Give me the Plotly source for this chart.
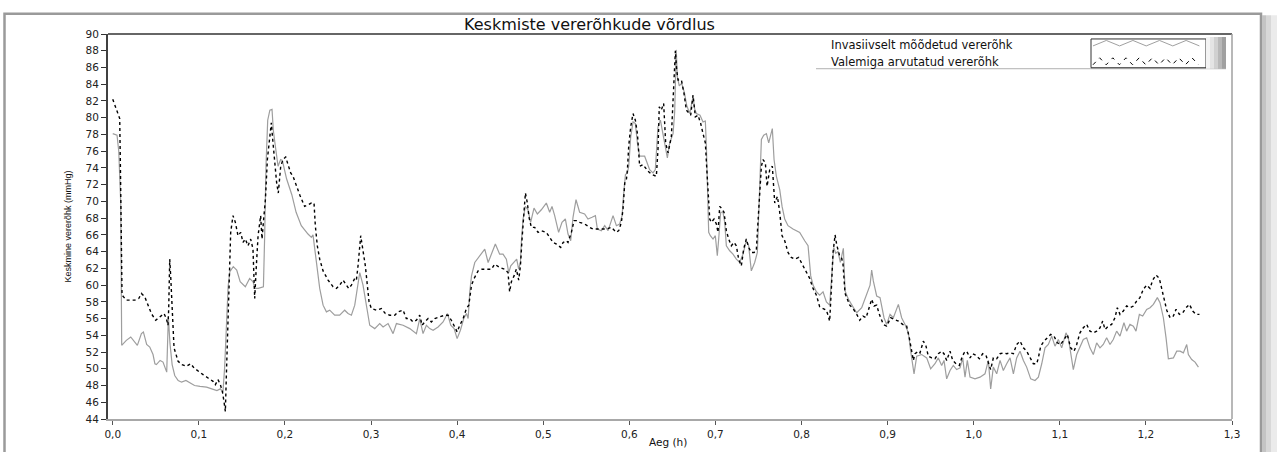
import plotly.graph_objects as go

# ---------------- data ----------------
t_invasive = [0.000, 0.005, 0.007, 0.0093, 0.0104, 0.0158, 0.0209, 0.0255, 0.0286, 0.0333, 0.0356, 0.0394, 0.043, 0.0468, 0.049, 0.0507, 0.055, 0.0584, 0.0627, 0.0646, 0.0665, 0.069, 0.072, 0.076, 0.080, 0.085, 0.090, 0.095, 0.1014, 0.109, 0.115, 0.121, 0.125, 0.128, 0.130, 0.132, 0.134, 0.136, 0.140, 0.144, 0.148, 0.154, 0.159, 0.163, 0.165, 0.169, 0.175, 0.1765, 0.178, 0.180, 0.1825, 0.185, 0.1865, 0.189, 0.191, 0.192, 0.195, 0.197, 0.2019, 0.208, 0.213, 0.219, 0.2268, 0.2307, 0.2326, 0.2365, 0.2404, 0.2443, 0.2482, 0.252, 0.2578, 0.2636, 0.2694, 0.2733, 0.2772, 0.2811, 0.2842, 0.2869, 0.2907, 0.2946, 0.2985, 0.3043, 0.3101, 0.314, 0.3198, 0.3256, 0.3295, 0.3372, 0.345, 0.3527, 0.3566, 0.3604, 0.3643, 0.3682, 0.3721, 0.3779, 0.3837, 0.3888, 0.3926, 0.3965, 0.400, 0.4038, 0.4077, 0.4108, 0.4128, 0.4147, 0.4167, 0.4205, 0.4263, 0.4321, 0.436, 0.4398, 0.4444, 0.4494, 0.4533, 0.4572, 0.460, 0.4623, 0.4661, 0.4692, 0.4715, 0.4735, 0.4746, 0.4766, 0.4793, 0.4823, 0.4854, 0.4893, 0.4932, 0.4978, 0.5036, 0.5075, 0.5102, 0.5133, 0.5179, 0.5218, 0.5257, 0.5288, 0.5319, 0.5346, 0.5381, 0.5423, 0.5481, 0.552, 0.5567, 0.5606, 0.5629, 0.5675, 0.5714, 0.5753, 0.5811, 0.585, 0.5888, 0.5916, 0.5935, 0.5955, 0.5978, 0.5993, 0.6016, 0.6043, 0.607, 0.6094, 0.612, 0.6178, 0.6236, 0.6275, 0.6302, 0.6333, 0.6361, 0.6392, 0.6411, 0.6442, 0.6469, 0.6508, 0.6527, 0.6539, 0.6545, 0.6558, 0.658, 0.6608, 0.664, 0.6666, 0.6701, 0.674, 0.676, 0.6779, 0.6821, 0.6856, 0.6883, 0.6895, 0.6907, 0.6922, 0.6941, 0.6972, 0.6999, 0.7022, 0.7038, 0.7061, 0.7088, 0.7108, 0.7127, 0.7166, 0.7204, 0.7243, 0.7282, 0.7321, 0.7359, 0.7386, 0.7417, 0.7456, 0.7487, 0.7503, 0.7514, 0.7534, 0.7561, 0.7592, 0.7619, 0.7642, 0.7661, 0.7681, 0.7708, 0.7747, 0.7774, 0.7805, 0.7843, 0.7901, 0.794, 0.7979, 0.8037, 0.8076, 0.8107, 0.8134, 0.8173, 0.8211, 0.825, 0.8289, 0.8327, 0.8354, 0.8374, 0.8397, 0.8424, 0.8451, 0.847, 0.8486, 0.8506, 0.8545, 0.8603, 0.8641, 0.8699, 0.8757, 0.8796, 0.8815, 0.8834, 0.8873, 0.8912, 0.8958, 0.8989, 0.9028, 0.9067, 0.9125, 0.9163, 0.9202, 0.9241, 0.9268, 0.9307, 0.9338, 0.9396, 0.9454, 0.950, 0.955, 0.9589, 0.9628, 0.9655, 0.9686, 0.9725, 0.9763, 0.9802, 0.9841, 0.9872, 0.9899, 0.9926, 0.9957, 1.0015, 1.0073, 1.0131, 1.017, 1.0197, 1.0228, 1.0267, 1.0306, 1.0344, 1.0383, 1.0422, 1.0461, 1.0499, 1.0538, 1.0577, 1.0615, 1.0662, 1.0712, 1.0751, 1.079, 1.0828, 1.0867, 1.0906, 1.0944, 1.0983, 1.1022, 1.1072, 1.1099, 1.1126, 1.1157, 1.1196, 1.1234, 1.1273, 1.1312, 1.135, 1.1389, 1.1428, 1.1467, 1.1505, 1.1544, 1.1583, 1.1621, 1.166, 1.1699, 1.1745, 1.1776, 1.1815, 1.1854, 1.1885, 1.1924, 1.1963, 1.2009, 1.2048, 1.2087, 1.2133, 1.2164, 1.2203, 1.2234, 1.2261, 1.2319, 1.2358, 1.2397, 1.2435, 1.2474, 1.2493, 1.2532, 1.2571, 1.261]
v_invasive = [78.1, 77.9, 76.0, 69.8, 52.8, 53.4, 53.8, 53.2, 52.8, 54.2, 54.4, 52.9, 52.6, 51.7, 50.6, 50.5, 51.0, 50.8, 49.6, 56.2, 53.0, 50.5, 49.2, 48.6, 48.4, 48.6, 48.3, 48.0, 47.9, 47.8, 47.6, 47.4, 47.6, 47.2, 50.2, 55.0, 59.8, 61.6, 62.2, 61.8, 60.4, 59.8, 60.8, 60.4, 59.6, 59.6, 59.8, 66.0, 74.2, 79.7, 80.9, 81.0, 78.5, 76.5, 75.0, 74.2, 75.0, 74.9, 72.7, 70.8, 68.7, 67.1, 66.1, 65.7, 66.0, 62.7, 59.6, 57.6, 56.8, 57.0, 56.4, 56.4, 57.0, 56.6, 56.4, 57.6, 59.6, 61.5, 60.0, 57.6, 55.2, 54.8, 55.4, 55.0, 55.4, 54.2, 55.4, 55.2, 54.8, 54.2, 56.0, 54.2, 55.2, 54.8, 54.6, 55.0, 55.6, 56.6, 55.2, 54.8, 53.6, 54.6, 56.0, 56.6, 56.0, 59.2, 61.1, 62.7, 63.5, 64.3, 62.7, 63.7, 64.9, 63.7, 63.7, 63.1, 61.5, 62.3, 62.7, 63.1, 61.9, 62.7, 65.1, 67.9, 69.4, 69.0, 67.5, 69.2, 68.5, 69.0, 69.8, 68.7, 69.4, 68.3, 66.3, 67.5, 67.9, 66.1, 65.3, 68.1, 70.2, 68.7, 68.5, 67.9, 68.1, 68.3, 66.7, 66.5, 67.1, 66.5, 68.3, 67.1, 67.3, 68.3, 71.0, 73.2, 73.4, 74.2, 77.7, 79.5, 79.3, 77.0, 75.4, 75.4, 73.8, 73.4, 73.8, 78.9, 79.7, 78.1, 77.0, 75.2, 77.0, 78.1, 80.7, 85.5, 88.1, 84.9, 83.8, 84.1, 83.0, 81.5, 80.5, 82.5, 81.0, 80.5, 80.3, 79.5, 79.6, 76.6, 71.0, 66.3, 65.9, 65.5, 65.9, 63.5, 65.5, 68.7, 68.7, 67.5, 64.7, 64.1, 63.7, 63.1, 62.7, 63.7, 65.3, 64.7, 61.7, 62.7, 63.9, 67.9, 72.6, 77.4, 77.9, 78.1, 77.0, 77.9, 78.7, 75.0, 73.0, 71.4, 69.4, 67.9, 67.1, 66.7, 66.5, 66.3, 65.3, 64.7, 61.1, 60.0, 59.2, 58.8, 59.2, 58.0, 57.6, 61.9, 64.5, 63.8, 64.0, 62.7, 63.9, 64.4, 59.3, 58.3, 57.3, 56.7, 57.3, 58.9, 60.0, 61.8, 60.5, 58.7, 58.5, 56.1, 55.3, 56.5, 56.1, 57.7, 56.1, 55.3, 54.3, 52.1, 49.4, 51.5, 51.7, 51.3, 50.0, 50.6, 51.3, 50.4, 51.0, 48.8, 49.8, 50.4, 49.9, 50.1, 51.3, 49.0, 51.0, 49.0, 48.8, 49.0, 49.4, 51.0, 47.6, 50.2, 49.4, 51.0, 49.8, 50.6, 51.3, 49.4, 51.3, 52.1, 51.0, 50.2, 48.8, 48.6, 49.0, 50.6, 52.5, 52.9, 53.9, 52.7, 53.5, 52.5, 54.3, 53.7, 51.7, 49.9, 51.7, 52.7, 53.5, 53.7, 52.5, 51.7, 53.1, 52.5, 52.9, 53.7, 52.9, 53.5, 54.5, 53.9, 55.5, 54.5, 55.3, 55.1, 54.5, 56.5, 56.3, 57.1, 57.3, 57.7, 58.5, 57.9, 56.1, 53.7, 51.2, 51.3, 52.1, 52.1, 51.9, 52.9, 51.7, 51.1, 50.8, 50.2]

t_formula = [0.000, 0.0054, 0.0081, 0.0089, 0.0093, 0.0100, 0.0108, 0.0158, 0.0217, 0.0255, 0.0302, 0.0333, 0.0372, 0.041, 0.0449, 0.0499, 0.0546, 0.0596, 0.0623, 0.0642, 0.065, 0.0662, 0.0673, 0.0693, 0.0712, 0.0759, 0.0805, 0.0855, 0.0906, 0.0944, 0.0991, 0.1049, 0.1107, 0.1165, 0.1192, 0.1223, 0.125, 0.1273, 0.1292, 0.1308, 0.132, 0.1331, 0.1347, 0.1358, 0.137, 0.1397, 0.1424, 0.1455, 0.1486, 0.1513, 0.154, 0.1571, 0.1602, 0.1629, 0.1649, 0.1668, 0.1688, 0.1718, 0.1734, 0.1753, 0.1773, 0.1796, 0.1823, 0.1842, 0.1858, 0.1881, 0.1904, 0.1923, 0.1951, 0.1978, 0.2009, 0.2036, 0.2067, 0.2094, 0.2133, 0.2175, 0.2229, 0.2268, 0.2307, 0.2338, 0.2353, 0.2376, 0.2404, 0.2443, 0.2501, 0.2559, 0.2598, 0.2636, 0.2675, 0.2714, 0.2741, 0.2772, 0.2811, 0.283, 0.2849, 0.288, 0.2907, 0.2934, 0.2957, 0.2977, 0.3004, 0.3062, 0.312, 0.3166, 0.3217, 0.3275, 0.3314, 0.3372, 0.341, 0.3449, 0.3488, 0.3527, 0.3566, 0.3593, 0.3624, 0.3663, 0.3701, 0.374, 0.3798, 0.3856, 0.3895, 0.3933, 0.3972, 0.400, 0.4031, 0.407, 0.4108, 0.4136, 0.4167, 0.4198, 0.4244, 0.429, 0.434, 0.4398, 0.4436, 0.4494, 0.4552, 0.4591, 0.461, 0.463, 0.4661, 0.4688, 0.4715, 0.4735, 0.4754, 0.4774, 0.4793, 0.4816, 0.4835, 0.4862, 0.4901, 0.494, 0.4978, 0.5036, 0.5075, 0.5114, 0.5153, 0.5203, 0.5231, 0.5269, 0.5288, 0.5327, 0.5358, 0.5385, 0.5423, 0.5481, 0.5539, 0.5578, 0.5617, 0.5675, 0.5733, 0.5791, 0.585, 0.5877, 0.5908, 0.5927, 0.5947, 0.5966, 0.5978, 0.5993, 0.6016, 0.6043, 0.607, 0.6094, 0.612, 0.6159, 0.6217, 0.6263, 0.6314, 0.6333, 0.6348, 0.6371, 0.6399, 0.6422, 0.645, 0.6488, 0.6519, 0.6535, 0.655, 0.6566, 0.6605, 0.6635, 0.6663, 0.6713, 0.674, 0.6767, 0.6798, 0.6829, 0.6856, 0.6883, 0.6907, 0.6934, 0.6953, 0.6984, 0.7011, 0.703, 0.705, 0.7069, 0.71, 0.7127, 0.7154, 0.7185, 0.7216, 0.7243, 0.727, 0.7301, 0.7328, 0.7359, 0.7386, 0.7417, 0.7448, 0.7475, 0.7494, 0.7514, 0.7534, 0.7553, 0.758, 0.76, 0.7631, 0.7661, 0.7689, 0.772, 0.7747, 0.7774, 0.7805, 0.7843, 0.7882, 0.7921, 0.7967, 0.8018, 0.8057, 0.8095, 0.8134, 0.8173, 0.8211, 0.825, 0.8289, 0.8308, 0.8327, 0.8347, 0.8366, 0.839, 0.8409, 0.844, 0.8467, 0.8482, 0.8506, 0.8529, 0.856, 0.8598, 0.8637, 0.8676, 0.8714, 0.875, 0.8788, 0.8815, 0.8842, 0.8873, 0.8904, 0.895, 0.8989, 0.9036, 0.9074, 0.9125, 0.9175, 0.9221, 0.9252, 0.9279, 0.9299, 0.9318, 0.9357, 0.9376, 0.9415, 0.9446, 0.9473, 0.9512, 0.955, 0.9589, 0.9628, 0.9655, 0.9686, 0.9725, 0.9756, 0.9795, 0.9833, 0.9861, 0.9888, 0.9918, 0.9957, 0.9988, 1.0027, 1.0066, 1.0104, 1.0143, 1.017, 1.0197, 1.0228, 1.0267, 1.0306, 1.0344, 1.0383, 1.0422, 1.0461, 1.0499, 1.0538, 1.0577, 1.0615, 1.0654, 1.0693, 1.0731, 1.0751, 1.0778, 1.0817, 1.0855, 1.0894, 1.0933, 1.0971, 1.101, 1.1049, 1.1087, 1.1126, 1.1165, 1.1196, 1.1234, 1.1273, 1.1312, 1.135, 1.1389, 1.1428, 1.1467, 1.1498, 1.1525, 1.1564, 1.1602, 1.1641, 1.1668, 1.1699, 1.1738, 1.1776, 1.1815, 1.1854, 1.1893, 1.1931, 1.197, 1.2009, 1.2048, 1.2079, 1.2118, 1.2156, 1.2184, 1.2211, 1.2242, 1.2281, 1.2319, 1.235, 1.2389, 1.2428, 1.2467, 1.2505, 1.2544, 1.2583, 1.2622]
v_formula = [82.2, 80.7, 79.9, 74.2, 69.8, 63.1, 58.8, 58.2, 58.2, 58.2, 58.4, 59.0, 58.6, 57.6, 56.6, 55.8, 56.2, 56.6, 56.0, 55.2, 57.2, 63.1, 61.1, 55.6, 52.5, 50.9, 50.5, 50.3, 50.6, 50.1, 49.7, 49.3, 48.9, 48.5, 48.1, 48.7, 48.1, 47.3, 46.1, 44.9, 49.3, 53.6, 59.6, 63.9, 66.3, 68.3, 67.5, 65.9, 66.3, 65.1, 65.5, 64.7, 65.5, 64.3, 58.4, 62.3, 65.9, 68.3, 65.5, 67.9, 70.2, 75.0, 77.4, 79.4, 77.4, 74.2, 72.2, 71.0, 74.2, 75.0, 75.3, 74.4, 73.4, 73.0, 71.8, 70.7, 69.4, 69.6, 69.8, 69.8, 67.1, 64.7, 63.1, 61.7, 60.6, 59.8, 59.6, 60.0, 60.6, 60.0, 59.6, 60.0, 60.8, 60.6, 62.3, 65.9, 64.3, 62.3, 60.0, 58.0, 57.2, 57.0, 57.2, 56.6, 56.4, 56.4, 56.8, 57.0, 56.0, 56.0, 55.6, 55.8, 56.4, 55.2, 55.6, 56.0, 55.6, 56.0, 56.2, 56.4, 56.4, 55.8, 55.0, 54.4, 55.2, 56.0, 57.2, 57.6, 60.0, 60.8, 61.7, 61.9, 61.9, 61.9, 62.5, 62.1, 61.9, 61.5, 59.2, 60.4, 61.1, 61.9, 60.6, 62.3, 65.5, 68.3, 71.0, 69.8, 68.1, 66.9, 66.9, 66.3, 66.5, 66.3, 65.7, 65.1, 64.9, 64.5, 65.1, 65.3, 65.1, 66.3, 67.7, 67.7, 67.5, 67.3, 66.9, 66.7, 66.7, 66.7, 66.7, 66.9, 66.3, 66.5, 67.5, 69.1, 72.2, 72.6, 73.8, 76.6, 78.9, 80.5, 79.7, 78.1, 74.2, 74.4, 73.6, 73.2, 73.0, 76.2, 81.3, 80.9, 81.7, 77.0, 75.8, 77.7, 83.7, 88.0, 85.7, 84.5, 84.5, 82.9, 80.9, 80.3, 82.7, 80.1, 80.3, 79.3, 78.1, 77.0, 72.6, 67.9, 67.5, 67.9, 67.3, 66.3, 69.4, 69.2, 68.7, 66.5, 65.5, 64.7, 65.1, 64.7, 63.1, 62.3, 64.3, 65.5, 64.5, 63.9, 63.9, 64.1, 67.5, 71.0, 74.2, 75.0, 74.6, 71.8, 73.8, 74.2, 69.8, 70.6, 68.7, 65.9, 65.3, 63.9, 63.3, 63.1, 63.3, 62.3, 61.5, 60.8, 59.6, 58.8, 57.4, 57.2, 57.0, 56.4, 55.7, 59.6, 63.9, 66.0, 64.8, 63.6, 63.2, 62.5, 59.0, 58.4, 57.6, 57.2, 56.6, 55.8, 56.3, 56.1, 57.3, 58.3, 57.5, 57.6, 56.5, 55.3, 55.1, 56.1, 55.9, 55.7, 55.3, 55.1, 53.7, 52.1, 51.0, 51.8, 52.1, 51.9, 53.3, 52.7, 51.5, 51.3, 51.2, 51.8, 52.1, 51.8, 51.0, 52.1, 51.0, 50.6, 50.4, 51.3, 51.9, 52.1, 51.3, 51.8, 51.6, 51.2, 51.8, 51.6, 50.6, 49.9, 51.3, 51.2, 51.8, 51.9, 51.8, 51.9, 51.8, 52.9, 53.3, 52.5, 52.1, 51.3, 50.6, 50.6, 51.3, 52.7, 53.3, 53.7, 54.1, 53.9, 53.1, 52.9, 53.5, 54.1, 52.5, 52.1, 52.9, 54.3, 54.9, 55.3, 54.5, 54.3, 54.5, 54.9, 55.7, 54.7, 55.1, 55.3, 56.1, 57.3, 56.5, 56.9, 57.5, 57.3, 57.5, 58.1, 58.5, 59.5, 60.0, 59.6, 60.6, 61.2, 60.8, 59.6, 58.1, 57.0, 56.1, 56.3, 57.1, 56.5, 56.7, 57.3, 57.7, 56.9, 56.5, 56.5]

series_names = ["Invasiivselt mõõdetud vererõhk", "Valemiga arvutatud vererõhk"]
x_tick_vals = [0.0, 0.1, 0.2, 0.3, 0.4, 0.5, 0.6, 0.7, 0.8, 0.9, 1.0, 1.1, 1.2, 1.3]
x_tick_text = ["0,0", "0,1", "0,2", "0,3", "0,4", "0,5", "0,6", "0,7", "0,8", "0,9", "1,0", "1,1", "1,2", "1,3"]
y_tick_vals = list(range(44, 91, 2))
title_text = "Keskmiste vererõhkude võrdlus"
x_title = "Aeg (h)"
y_title = "Keskmine vererõhk (mmHg)"

# ---------------- layout helpers (pixel -> paper) ----------------
W, H = 1277, 452
L, R, T, B = 108, 1232, 34, 422


def px(X):
    return (X - L) / (R - L)


def py(Y):
    return (B - Y) / (B - T)


fig = go.Figure()
fig.add_trace(go.Scatter(x=t_invasive, y=v_invasive, mode="lines", name=series_names[0],
                         line=dict(color="#9e9e9e", width=1.2), showlegend=False))
fig.add_trace(go.Scatter(x=t_formula, y=v_formula, mode="lines", name=series_names[1],
                         line=dict(color="#000000", width=1.4, dash="3px,3px"), showlegend=False))

shapes = []
# outer frame
shapes.append(dict(type="rect", xref="paper", yref="paper", x0=px(4.5), x1=px(1261), y0=py(470), y1=py(13.5),
                   line=dict(color="#9a9a9a", width=2.5), fillcolor="rgba(0,0,0,0)", layer="below"))
# right strip (scroll bar look)
for x0, x1, c in [(1262, 1266, "#c4c4c4"), (1266, 1271, "#d8d8d8"), (1271, 1277, "#ebebeb")]:
    shapes.append(dict(type="rect", xref="paper", yref="paper", x0=px(x0), x1=px(x1), y0=py(470), y1=py(15),
                       line=dict(width=0), fillcolor=c, layer="below"))
# plot top border & right border
shapes.append(dict(type="line", xref="paper", yref="paper", x0=0, x1=1, y0=1, y1=1,
                   line=dict(color="#333333", width=1.5)))
shapes.append(dict(type="line", xref="paper", yref="paper", x0=1, x1=1, y0=0, y1=1,
                   line=dict(color="#a0a0a0", width=1.5)))
# legend underline
shapes.append(dict(type="line", xref="paper", yref="paper", x0=px(816), x1=px(1226), y0=py(69), y1=py(69),
                   line=dict(color="#b0b0b0", width=1)))
# legend sample box
shapes.append(dict(type="rect", xref="paper", yref="paper", x0=px(1091), x1=px(1206), y0=py(68), y1=py(39),
                   line=dict(color="#333333", width=1), fillcolor="white"))
# gradient bar next to legend box
for i, c in enumerate(["#f4f4f4", "#e4e4e4", "#d0d0d0", "#b8b8b8", "#a0a0a0"]):
    shapes.append(dict(type="rect", xref="paper", yref="paper", x0=px(1206 + 4 * i), x1=px(1210 + 4 * i),
                       y0=py(69), y1=py(37), line=dict(width=0), fillcolor=c))
# legend sample lines (zigzags)
zz1 = []
X = 1093
k = 0
while X <= 1204:
    Y = 46 if k % 2 == 0 else 40.5
    zz1.append((X, Y))
    X += 13.3
    k += 1
path1 = "M " + " L ".join(f"{px(a):.5f},{py(b):.5f}" for a, b in zz1)
shapes.append(dict(type="path", xref="paper", yref="paper", path=path1, line=dict(color="#a0a0a0", width=1)))
zz2 = []
X = 1093
k = 0
while X <= 1204:
    Y = 65 if k % 2 == 0 else 58
    zz2.append((X, Y))
    X += 6.6
    k += 1
path2 = "M " + " L ".join(f"{px(a):.5f},{py(b):.5f}" for a, b in zz2)
shapes.append(dict(type="path", xref="paper", yref="paper", path=path2,
                   line=dict(color="#000000", width=1, dash="4px,5px")))

annotations = [
    dict(text=title_text, xref="paper", yref="paper", x=px(589), y=py(24), showarrow=False,
         xanchor="center", yanchor="middle", font=dict(family="DejaVu Sans", size=16, color="#111111")),
    dict(text=series_names[0], xref="paper", yref="paper", x=px(829), y=py(45), showarrow=False,
         xanchor="left", yanchor="middle", font=dict(family="DejaVu Sans", size=11.5, color="#111111")),
    dict(text=series_names[1], xref="paper", yref="paper", x=px(829), y=py(62), showarrow=False,
         xanchor="left", yanchor="middle", font=dict(family="DejaVu Sans", size=11.5, color="#111111")),
    dict(text=x_title, xref="paper", yref="paper", x=px(668), y=py(445), showarrow=False,
         xanchor="center", yanchor="middle", font=dict(family="DejaVu Sans", size=10.5, color="#111111")),
    dict(text=y_title, xref="paper", yref="paper", x=px(67), y=py(228), showarrow=False, textangle=-90,
         xanchor="center", yanchor="middle", font=dict(family="Liberation Sans", size=9, color="#111111")),
]

fig.update_layout(
    width=W, height=H, autosize=False,
    margin=dict(l=L, r=W - R, t=T, b=H - B, pad=0),
    paper_bgcolor="white", plot_bgcolor="white",
    showlegend=False,
    shapes=shapes, annotations=annotations,
    xaxis=dict(range=[-0.0055, 1.3], tickmode="array", tickvals=x_tick_vals, ticktext=x_tick_text,
               showgrid=False, zeroline=False, showline=True, linecolor="#a8a8a8", linewidth=2,
               ticks="outside", ticklen=4, tickwidth=1, tickcolor="#555555",
               tickfont=dict(family="DejaVu Sans", size=10.5, color="#222222")),
    yaxis=dict(range=[44, 90], tickmode="array", tickvals=y_tick_vals,
               ticktext=[str(v) for v in y_tick_vals],
               showgrid=False, zeroline=False, showline=True, linecolor="#404040", linewidth=2,
               ticks="outside", ticklen=5, tickwidth=1, tickcolor="#333333",
               tickfont=dict(family="DejaVu Sans", size=10.5, color="#222222")),
)

fig.write_html("out.html")
